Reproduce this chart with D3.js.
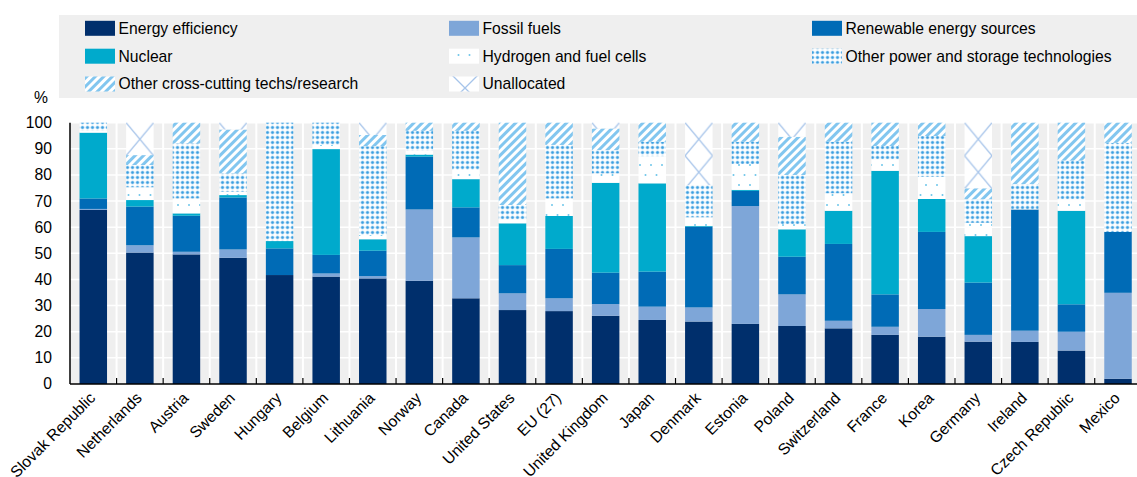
<!DOCTYPE html>
<html>
<head>
<meta charset="utf-8">
<script src="https://cdn.jsdelivr.net/npm/d3@7"></script>
<style>
  html, body { margin: 0; padding: 0; background: #fff; }
  svg { display: block; font-family: "Liberation Sans", Arial, sans-serif; }
</style>
</head>
<body>
<svg id="chart" width="1137" height="477"></svg>
<script>
// Share of public energy RD&D budget by technology, %
const countries = ["Slovak Republic","Netherlands","Austria","Sweden","Hungary","Belgium","Lithuania","Norway","Canada","United States","EU (27)","United Kingdom","Japan","Denmark","Estonia","Poland","Switzerland","France","Korea","Germany","Ireland","Czech Republic","Mexico"];

const energyEfficiency = [66.6,50.3,49.6,48.3,41.7,41.1,40.4,39.5,32.8,28.3,27.9,26.1,24.5,23.9,23.0,22.2,21.3,18.8,18.1,16.2,16.1,12.8,2.0];
const fossilFuels      = [0.4,2.8,1.0,3.2,0,1.2,0.9,27.3,23.3,6.4,4.9,4.5,5.1,5.4,45.1,12.1,2.9,3.1,10.6,2.6,4.3,7.2,32.9];
const renewables       = [4.0,14.8,13.8,19.9,10.2,7.1,9.7,20.2,11.5,10.8,18.9,12.0,13.4,30.9,5.8,14.4,29.4,12.4,29.5,20.0,46.4,10.5,23.3];
const nuclear          = [25.2,2.5,0.9,0.9,2.8,40.5,4.4,0.8,10.8,16.0,12.6,34.4,33.8,0.3,0.4,10.5,12.7,47.3,12.6,17.8,0,35.8,0];
const hydrogen         = [0.8,4.9,5.7,1.3,0,1.6,1.6,1.5,3.5,1.5,6.7,3.6,10.4,3.3,9.9,2.0,6.7,4.4,8.5,5.1,0,4.4,0];
const otherPower       = [3.0,8.5,21.1,7.0,45.3,8.5,34.0,7.6,15.0,5.5,20.5,8.9,5.5,12.3,8.5,18.8,19.7,5.1,15.6,9.0,9.7,14.8,34.1];
const crossCutting     = [0,3.8,7.9,16.8,0,0,4.3,3.1,3.1,31.5,8.5,8.3,7.3,0,7.3,14.6,7.3,8.9,5.1,4.2,23.5,14.5,7.7];
const unallocated      = [0,12.4,0,2.6,0,0,4.7,0,0,0,0,2.2,0,23.9,0,5.4,0,0,0,25.1,0,0,0];

const seriesNames = ["Energy efficiency","Fossil fuels","Renewable energy sources","Nuclear","Hydrogen and fuel cells","Other power and storage technologies","Other cross-cutting techs/research","Unallocated"];
const seriesKeys  = ["ee","fossil","ren","nuc","h2","power","cross","unalloc"];
const seriesValues = [energyEfficiency, fossilFuels, renewables, nuclear, hydrogen, otherPower, crossCutting, unallocated];
const yTicks = [0,10,20,30,40,50,60,70,80,90,100];

// rows for d3.stack
const rows = countries.map((c, i) => {
  const r = { country: c };
  seriesKeys.forEach((k, j) => { r[k] = seriesValues[j][i]; });
  return r;
});

const svg = d3.select("#chart");
const defs = svg.append("defs");
const plotLeft = 70, plotRight = 1141.3, plotTop = 122.7, plotBottom = 384;

const x = d3.scaleBand().domain(countries).range([plotLeft, plotRight]).paddingInner(0.41).paddingOuter(0.205);
const y = d3.scaleLinear().domain([0, 100]).range([plotBottom, plotTop]);
const step = x.step();

// ---- fill patterns ----
function dotPattern(id) {
  const p = defs.append("pattern").attr("id", id).attr("patternUnits", "userSpaceOnUse")
    .attr("width", 5).attr("height", 5);
  p.append("rect").attr("width", 5).attr("height", 5).attr("fill", "#fff");
  p.append("circle").attr("cx", 2.5).attr("cy", 2.5).attr("r", 2.1).attr("fill", "#b7dcf4");
  p.append("circle").attr("cx", 2.5).attr("cy", 2.5).attr("r", 1.2).attr("fill", "#3c9fe0");
}
function sparsePattern(id) {
  const p = defs.append("pattern").attr("id", id).attr("patternUnits", "userSpaceOnUse")
    .attr("width", 11).attr("height", 20);
  p.append("rect").attr("width", 11).attr("height", 20).attr("fill", "#fff");
  p.append("circle").attr("cx", 2).attr("cy", 5).attr("r", 1).attr("fill", "#6cc6ea");
  p.append("circle").attr("cx", 7.5).attr("cy", 15).attr("r", 1).attr("fill", "#6cc6ea");
}
function stripePattern(id) {
  const p = defs.append("pattern").attr("id", id).attr("patternUnits", "userSpaceOnUse")
    .attr("width", 6).attr("height", 6).attr("patternTransform", "rotate(45)");
  p.append("rect").attr("width", 6).attr("height", 6).attr("fill", "#fff");
  p.append("rect").attr("width", 3).attr("height", 6).attr("fill", "#82c6ef");
}
function crossPattern(id, px, py, w, h) {
  const p = defs.append("pattern").attr("id", id).attr("patternUnits", "userSpaceOnUse")
    .attr("x", px).attr("y", py).attr("width", w).attr("height", h);
  p.append("rect").attr("width", w).attr("height", h).attr("fill", "#fff");
  p.append("path").attr("d", `M0,0L${w},${h}M${w},0L0,${h}`)
    .attr("stroke", "#a6c4ea").attr("stroke-width", 1.3).attr("fill", "none");
}
dotPattern("p-power");
sparsePattern("p-h2");
stripePattern("p-cross");
countries.forEach((c, i) => crossPattern("p-unalloc-" + i, x(c), plotTop, x.bandwidth(), 33));
crossPattern("p-unalloc-legend", 0, 13, 30, 30);

const solid = { ee: "#002f6c", fossil: "#7ea6d8", ren: "#006bb6", nuc: "#00aacc" };
function fillFor(key, i) {
  if (solid[key]) return solid[key];
  if (key === "h2") return "url(#p-h2)";
  if (key === "power") return "url(#p-power)";
  if (key === "cross") return "url(#p-cross)";
  return "url(#p-unalloc-" + i + ")";
}

// ---- legend ----
const legendG = svg.append("g");
legendG.append("rect").attr("x", 59).attr("y", 15).attr("width", 1090).attr("height", 83).attr("fill", "#efefef");
const legendCols = [85, 449, 812];
const legendRows = [28.3, 56.2, 84];
seriesNames.forEach((name, j) => {
  const cx = legendCols[j % 3], cy = legendRows[Math.floor(j / 3)];
  const k = seriesKeys[j];
  const f = solid[k] || (k === "h2" ? "url(#p-h2)" : k === "power" ? "url(#p-power)" : k === "cross" ? "url(#p-cross)" : "url(#p-unalloc-legend)");
  legendG.append("rect").attr("x", cx).attr("y", cy - 7.5).attr("width", 30).attr("height", 15).attr("fill", f);
  legendG.append("text").attr("x", cx + 33.5).attr("y", cy).attr("dy", "0.35em")
    .attr("font-size", 15.7).attr("fill", "#000").text(name);
});

// ---- plot background and grid ----
svg.append("rect").attr("x", plotLeft).attr("y", plotTop).attr("width", 1137 - plotLeft).attr("height", plotBottom - plotTop).attr("fill", "#efefef");
svg.append("g").selectAll("line").data(yTicks.slice(1)).join("line")
  .attr("x1", plotLeft).attr("x2", 1137).attr("y1", d => y(d)).attr("y2", d => y(d))
  .attr("stroke", "#fff").attr("stroke-width", 1.5);
const boundaries = countries.map(c => x(c) - step * 0.205).concat([x(countries[countries.length - 1]) + x.bandwidth() + step * 0.205]);
svg.append("g").selectAll("line").data(boundaries.slice(1)).join("line")
  .attr("x1", d => d).attr("x2", d => d).attr("y1", plotTop).attr("y2", plotBottom)
  .attr("stroke", "#fff").attr("stroke-width", 2);

// ---- stacked bars ----
const stack = d3.stack().keys(seriesKeys)(rows);
svg.append("g").selectAll("g").data(stack).join("g")
  .each(function(layer) {
    d3.select(this).selectAll("rect").data(layer).join("rect")
      .attr("x", d => x(d.data.country))
      .attr("width", x.bandwidth())
      .attr("y", d => y(d[1]))
      .attr("height", d => Math.max(0, y(d[0]) - y(d[1])))
      .attr("fill", (d, i) => fillFor(layer.key, i));
  });

// ---- axes ----
const axisG = svg.append("g");
axisG.append("line").attr("x1", plotLeft).attr("x2", plotLeft).attr("y1", plotTop).attr("y2", plotBottom)
  .attr("stroke", "#000").attr("stroke-width", 1.5);
axisG.append("line").attr("x1", plotLeft).attr("x2", 1137).attr("y1", plotBottom).attr("y2", plotBottom)
  .attr("stroke", "#000").attr("stroke-width", 1.5);
axisG.selectAll("line.tick").data(boundaries.slice(1)).join("line").attr("class", "tick")
  .attr("x1", d => d).attr("x2", d => d).attr("y1", plotBottom).attr("y2", plotBottom - 6)
  .attr("stroke", "#000").attr("stroke-width", 1.2);

axisG.selectAll("text.ylab").data(yTicks).join("text").attr("class", "ylab")
  .attr("x", 52).attr("y", d => y(d)).attr("dy", "0.35em").attr("text-anchor", "end")
  .attr("font-size", 15.7).attr("fill", "#000").text(d => d);
svg.append("text").attr("x", 34).attr("y", 98).attr("dy", "0.35em")
  .attr("font-size", 15.7).attr("fill", "#000").text("%");

axisG.selectAll("text.xlab").data(countries).join("text").attr("class", "xlab")
  .attr("text-anchor", "end").attr("font-size", 15.7).attr("fill", "#000")
  .attr("transform", d => `translate(${x(d) + x.bandwidth() / 2 + 3},${plotBottom + 15}) rotate(-45)`)
  .text(d => d);
</script>
</body>
</html>
